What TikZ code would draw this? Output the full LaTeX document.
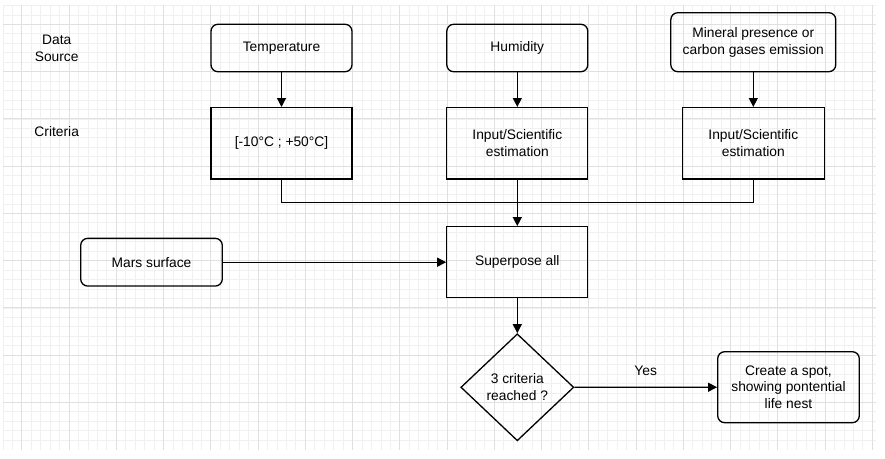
\documentclass[tikz,border=0pt]{standalone}
\usepackage{fontspec}
\setmainfont{Liberation Sans}
\usetikzlibrary{shapes.geometric,arrows.meta}
\begin{document}
\begin{tikzpicture}[x=1pt,y=-1pt,
    box/.style={draw=black,line width=1.3pt,align=center,inner sep=0pt,
        font=\fontsize{13.8pt}{16.7pt}\selectfont},
    roundbox/.style={box,rounded corners=7pt},
    decision/.style={box,shape=diamond,aspect=1.05},
    flow/.style={line width=1.3pt,-{Triangle[length=9pt,width=9pt]}},
    plain/.style={line width=1.3pt},
    lbl/.style={align=center,inner sep=0pt,font=\fontsize{13.8pt}{16.7pt}\selectfont}]
  \useasboundingbox[fill=white] (0,0) rectangle (885,458);
  % grid minor
  \foreach \i in {0,...,92}
    \draw [line width=0.6pt, black!6] ({2.8+9.45*\i},5) -- ({2.8+9.45*\i},450);
  \foreach \j in {0,...,46}
    \draw [line width=0.6pt, black!6] (3,{5.4+9.45*\j}) -- (876,{5.4+9.45*\j});
  % grid major
  \foreach \k in {0,...,18}
    \draw [line width=0.8pt, black!12] ({21.7+47.25*\k},5) -- ({21.7+47.25*\k},450);
  \foreach \k in {0,...,8}
    \draw [line width=0.8pt, black!12] (3,{24.3+47.25*\k}) -- (876,{24.3+47.25*\k});
  % row labels
  \node [lbl] (datasrc) at (56.7,48.3) {Data\\Source};
  \node [lbl] (critlbl) at (56.7,131.7) {Criteria};
  % data sources
  \node [roundbox,minimum width=141pt,minimum height=47.5pt] (temp) at (281.5,48) {Temperature};
  \node [roundbox,minimum width=141pt,minimum height=47.5pt] (hum) at (517.3,48) {Humidity};
  \node [roundbox,minimum width=165pt,minimum height=59pt] (mineral) at (753.3,42.2) {Mineral presence or\\carbon gases emission};
  % criteria
  \node [box,minimum width=141pt,minimum height=71.3pt] (crittemp) at (281.5,143.3) {[-10°C ; +50°C]};
  \node [box,minimum width=141pt,minimum height=71.3pt] (crithum) at (517.3,143.3) {Input/Scientific\\estimation};
  \node [box,minimum width=142pt,minimum height=71.3pt] (critmin) at (753.3,143.3) {Input/Scientific\\estimation};
  % merge and superpose
  \coordinate (merge) at (517.3,202.3);
  \node [box,minimum width=141pt,minimum height=71pt] (superpose) at (517.3,262.2) {Superpose all};
  \node [roundbox,minimum width=141.6pt,minimum height=47.7pt] (mars) at (151.5,262.2) {Mars surface};
  % decision
  \node [decision,minimum width=113pt,minimum height=107pt] (reached) at (517.3,387.3) {3 criteria\\reached ?};
  \node [roundbox,minimum width=141.6pt,minimum height=71pt] (spot) at (788.5,387.2) {Create a spot,\\showing pontential\\life nest};
  % connectors
  \draw [flow] (temp) -- (crittemp);
  \draw [flow] (hum) -- (crithum);
  \draw [flow] (mineral) -- (critmin);
  \draw [plain] (crittemp.south) |- (merge);
  \draw [plain] (critmin.south) |- (merge);
  \draw [flow] (crithum) -- (superpose);
  \draw [flow] (mars) -- (superpose);
  \draw [flow] (superpose) -- (reached);
  \draw [flow] (reached) -- node [lbl,above=11pt] {Yes} (spot);
\end{tikzpicture}
\end{document}
